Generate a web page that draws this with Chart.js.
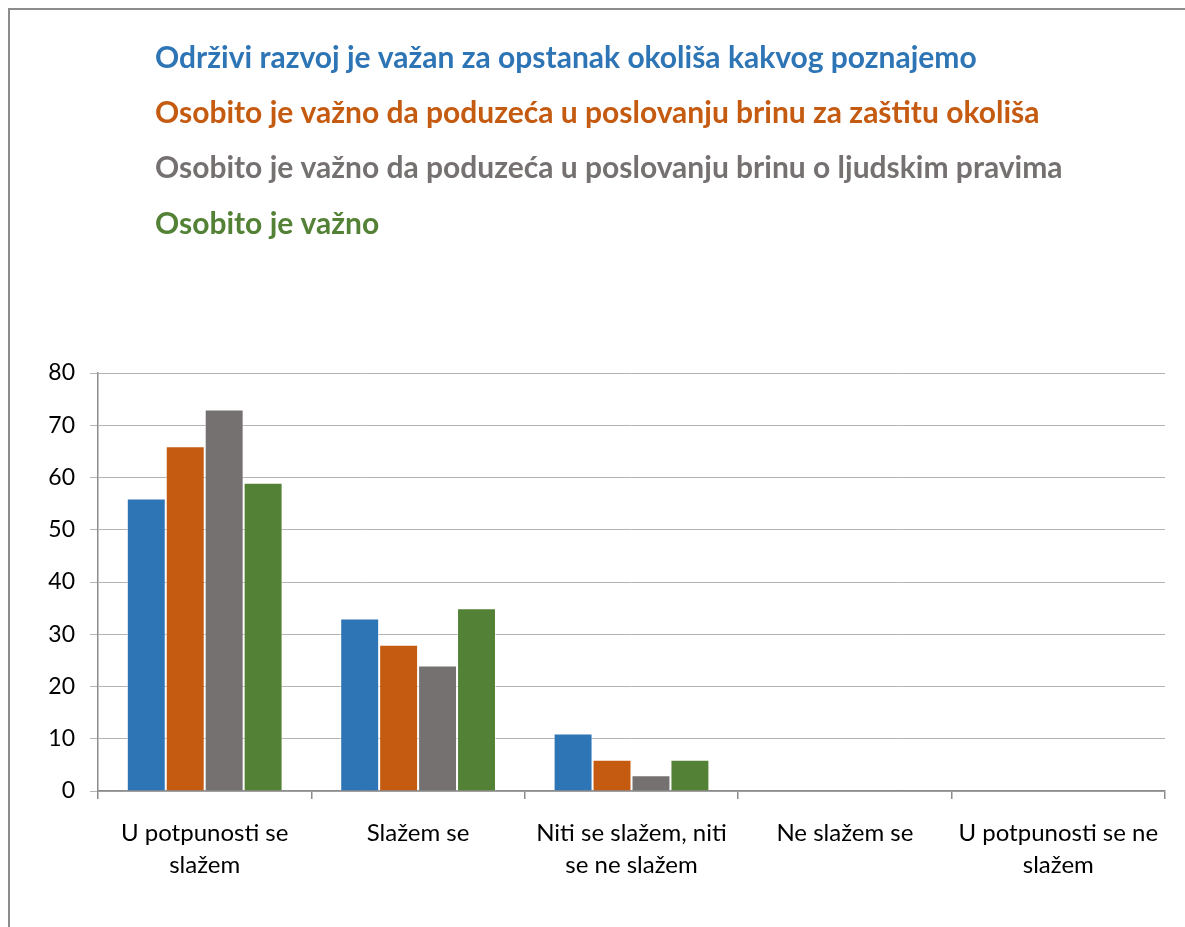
<!DOCTYPE html>
<html>
<head>
<meta charset="utf-8">
<script src="https://cdn.jsdelivr.net/npm/chart.js@4"></script>
<style>
  html, body { margin: 0; padding: 0; background: #fff; }
  #wrap { width: 1185px; height: 927px; }
</style>
</head>
<body>
<div id="wrap"><canvas id="chart" width="1185" height="927"></canvas></div>
<script>
const categories = [
  ["U potpunosti se", "slažem"],
  ["Slažem se"],
  ["Niti se slažem, niti", "se ne slažem"],
  ["Ne slažem se"],
  ["U potpunosti se ne", "slažem"],
];
const seriesNames = [
  "Održivi razvoj je važan za opstanak okoliša kakvog poznajemo",
  "Osobito je važno da poduzeća u poslovanju brinu za zaštitu okoliša",
  "Osobito je važno da poduzeća u poslovanju brinu o ljudskim pravima",
  "Osobito je važno",
];
const sustainable = [56, 33, 11, 0, 0];
const environment = [66, 28, 6, 0, 0];
const humanRights = [73, 24, 3, 0, 0];
const important = [59, 35, 6, 0, 0];
const colors = ["#2E75B6", "#C55A11", "#767171", "#538135"];
const yTicks = [0, 10, 20, 30, 40, 50, 60, 70, 80];

const font = "Lato, 'Open Sans', sans-serif";

// frame like the office chart area border
const framePlugin = {
  id: "frame",
  beforeDraw(chart) {
    const ctx = chart.ctx;
    ctx.save();
    ctx.strokeStyle = "#8c8c8c";
    ctx.lineWidth = 2;
    ctx.beginPath();
    ctx.moveTo(9, chart.height + 5);
    ctx.lineTo(9, 9);
    ctx.lineTo(chart.width + 5, 9);
    ctx.stroke();
    ctx.restore();
  },
};

// legend as coloured bold lines of text, one per series
const textLegend = {
  id: "textLegend",
  afterDraw(chart) {
    const ctx = chart.ctx;
    ctx.save();
    ctx.font = "bold 30px " + font;
    ctx.textBaseline = "middle";
    ctx.textAlign = "left";
    chart.data.datasets.forEach((ds, i) => {
      ctx.fillStyle = ds.backgroundColor;
      ctx.fillText(ds.label, 155, 58 + i * 55.3);
    });
    ctx.restore();
  },
};

const data = [sustainable, environment, humanRights, important];

new Chart(document.getElementById("chart"), {
  type: "bar",
  data: {
    labels: categories,
    datasets: data.map((values, i) => ({
      label: seriesNames[i],
      data: values,
      backgroundColor: colors[i],
      borderColor: "rgba(255,255,255,0.55)",
      borderWidth: 1,
      categoryPercentage: 0.73,
      barPercentage: 1,
    })),
  },
  options: {
    responsive: false,
    animation: false,
    layout: { padding: { top: 373, right: 20, left: 0, bottom: 0 } },
    plugins: {
      legend: { display: false },
      tooltip: { enabled: false },
    },
    scales: {
      x: {
        afterFit: (s) => { s.height = 136; },
        grid: {
          offset: true,
          drawOnChartArea: false,
          drawTicks: true,
          tickLength: 8,
          color: "#8c8c8c",
          lineWidth: 1.5,
        },
        border: { color: "#8c8c8c", width: 1.5 },
        ticks: {
          color: "#000",
          font: { family: font, size: 24, lineHeight: 1.35 },
          padding: 18,
          maxRotation: 0,
          autoSkip: false,
        },
      },
      y: {
        min: 0,
        max: 80,
        afterFit: (s) => { s.width = 98; },
        afterBuildTicks: (s) => { s.ticks = yTicks.map((v) => ({ value: v })); },
        grid: {
          color: "#b3b3b3",
          lineWidth: 1,
          tickLength: 8,
        },
        border: { color: "#8c8c8c", width: 1.5 },
        ticks: {
          color: "#000",
          font: { family: font, size: 23 },
          padding: 15,
        },
      },
    },
  },
  plugins: [framePlugin, textLegend],
});
</script>
</body>
</html>
